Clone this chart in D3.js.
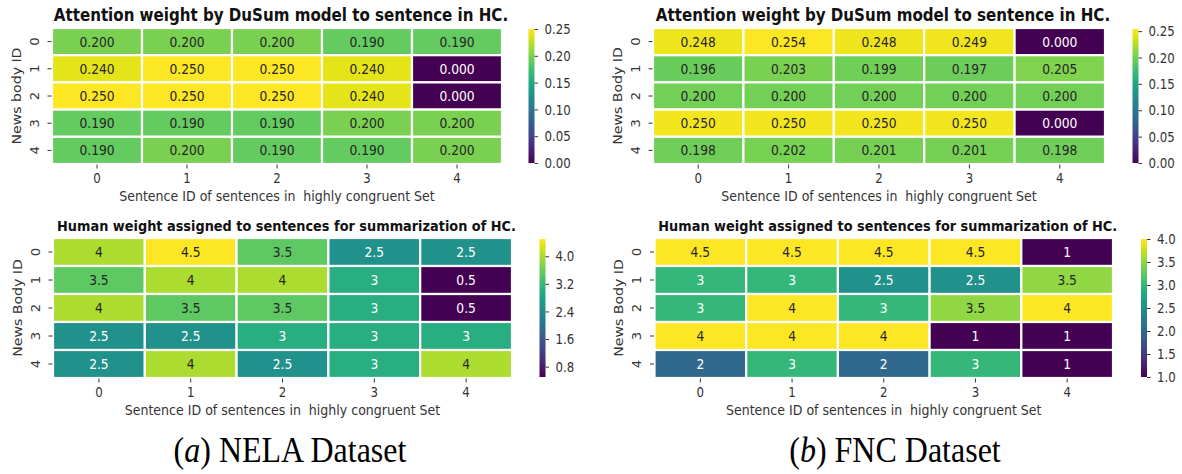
<!DOCTYPE html>
<html>
<head>
<meta charset="utf-8">
<script src="https://cdn.jsdelivr.net/npm/d3@7"></script>
<style>
  html, body { margin: 0; padding: 0; background: #ffffff; }
  svg { display: block; }
  text.sans { font-family: "DejaVu Sans", sans-serif; }
  text.caption { font-family: "Liberation Serif", "Times New Roman", serif; }
</style>
</head>
<body>
<svg id="chart" width="1182" height="474"></svg>
<script>
// ---- data ----
const newsBodyIds = [0, 1, 2, 3, 4];
const sentenceIds = [0, 1, 2, 3, 4];

// attention weights, NELA dataset (rows = news body, cols = sentence)
const nelaAttention = [
  [0.200, 0.200, 0.200, 0.190, 0.190],
  [0.240, 0.250, 0.250, 0.240, 0.000],
  [0.250, 0.250, 0.250, 0.240, 0.000],
  [0.190, 0.190, 0.190, 0.200, 0.200],
  [0.190, 0.200, 0.190, 0.190, 0.200]
];
// attention weights, FNC dataset
const fncAttention = [
  [0.248, 0.254, 0.248, 0.249, 0.000],
  [0.196, 0.203, 0.199, 0.197, 0.205],
  [0.200, 0.200, 0.200, 0.200, 0.200],
  [0.250, 0.250, 0.250, 0.250, 0.000],
  [0.198, 0.202, 0.201, 0.201, 0.198]
];
// human weights, NELA dataset
const nelaHuman = [
  [4, 4.5, 3.5, 2.5, 2.5],
  [3.5, 4, 4, 3, 0.5],
  [4, 3.5, 3.5, 3, 0.5],
  [2.5, 2.5, 3, 3, 3],
  [2.5, 4, 2.5, 3, 4]
];
// human weights, FNC dataset
const fncHuman = [
  [4.5, 4.5, 4.5, 4.5, 1],
  [3, 3, 2.5, 2.5, 3.5],
  [3, 4, 3, 3.5, 4],
  [4, 4, 4, 1, 1],
  [2, 3, 2, 3, 1]
];

const attentionTicks = [0, 0.05, 0.10, 0.15, 0.20, 0.25];
const nelaHumanTicks = [0.8, 1.6, 2.4, 3.2, 4.0];
const fncHumanTicks = [1.0, 1.5, 2.0, 2.5, 3.0, 3.5, 4.0];

const attentionTitle = "Attention weight by DuSum model to sentence in HC.";
const humanTitle = "Human weight assigned to sentences for summarization of HC.";
const xAxisLabel = "Sentence ID of sentences in  highly congruent Set";
const captions = [
  { tag: "a", name: " NELA Dataset" },
  { tag: "b", name: " FNC Dataset" }
];

// ---- layout ----
const K = 1.12;            // vertical stretch applied to all text
const TICK_FONT = 11.8;
const CELL_FONT = 12.3;
const LABEL_FONT = 12.6;

const panels = [
  { values: nelaAttention, domain: [0, 0.25], ticks: attentionTicks, tickFmt: d3.format(".2f"),
    cellFmt: d3.format(".3f"), title: attentionTitle, titleSize: 15.1, yLabel: "News body ID",
    box: { x0: 52, x1: 502, y0: 28, y1: 164 }, bar: { x0: 528.5, x1: 534.5 } },
  { values: fncAttention, domain: [0, 0.254], ticks: attentionTicks, tickFmt: d3.format(".2f"),
    cellFmt: d3.format(".3f"), title: attentionTitle, titleSize: 15.1, yLabel: "News Body ID",
    box: { x0: 653, x1: 1105, y0: 28, y1: 164 }, bar: { x0: 1132.5, x1: 1138.5 } },
  { values: nelaHuman, domain: [0.5, 4.5], ticks: nelaHumanTicks, tickFmt: d3.format(".1f"),
    cellFmt: v => String(v), title: humanTitle, titleSize: 12.9, yLabel: "News Body ID",
    box: { x0: 53, x1: 512, y0: 238, y1: 378 }, bar: { x0: 539.5, x1: 545.5 } },
  { values: fncHuman, domain: [1, 4], ticks: fncHumanTicks, tickFmt: d3.format(".1f"),
    cellFmt: v => String(v), title: humanTitle, titleSize: 12.9, yLabel: "News Body ID",
    box: { x0: 654.5, x1: 1113, y0: 238, y1: 378 }, bar: { x0: 1141, x1: 1147 } }
];

const svg = d3.select("#chart");
const defs = svg.append("defs");

function relLuminance(c) {
  const rgb = d3.rgb(c);
  const lin = v => { v /= 255; return v <= 0.03928 ? v / 12.92 : Math.pow((v + 0.055) / 1.055, 2.4); };
  return 0.2126 * lin(rgb.r) + 0.7152 * lin(rgb.g) + 0.0722 * lin(rgb.b);
}

function stretchText(sel, x, y, rot) {
  sel.attr("x", null).attr("y", null).attr("dy", null)
     .attr("transform", `translate(${x},${y}) scale(1,${K})` + (rot ? ` rotate(${rot})` : ""));
}

panels.forEach((p, pi) => {
  const g = svg.append("g");
  const { x0, x1, y0, y1 } = p.box;

  const x = d3.scaleBand().domain(sentenceIds).range([x0, x1]);
  const y = d3.scaleBand().domain(newsBodyIds).range([y0, y1]);
  const color = d3.scaleSequential(d3.interpolateViridis).domain(p.domain).clamp(true);

  // cells
  const cells = [];
  p.values.forEach((row, r) => row.forEach((v, c) => cells.push({ r, c, v })));

  g.selectAll("rect.cell").data(cells).join("rect")
    .attr("class", "cell")
    .attr("x", d => x(d.c)).attr("y", d => y(d.r))
    .attr("width", x.bandwidth()).attr("height", y.bandwidth())
    .attr("fill", d => color(d.v))
    .attr("stroke", "#ffffff").attr("stroke-width", 2.2);

  g.selectAll("text.annot").data(cells).join("text")
    .attr("class", "annot sans")
    .attr("text-anchor", "middle")
    .attr("font-size", CELL_FONT)
    .attr("fill", d => relLuminance(color(d.v)) < 0.408 ? "#ffffff" : "#262626")
    .text(d => p.cellFmt(d.v))
    .each(function (d) {
      stretchText(d3.select(this), x(d.c) + x.bandwidth() / 2, y(d.r) + y.bandwidth() / 2 + 4.9);
    });

  // x axis
  const xAxis = g.append("g").attr("transform", `translate(0,${y1})`)
    .call(d3.axisBottom(x).tickSize(4).tickSizeOuter(0));
  xAxis.select(".domain").remove();
  xAxis.selectAll(".tick line").attr("stroke", "#333").attr("y1", 0.5).attr("y2", 4.5);
  xAxis.selectAll(".tick text")
    .attr("class", "sans").attr("font-size", TICK_FONT).attr("fill", "#333")
    .each(function () { stretchText(d3.select(this), 0, 19.3); });

  // y axis
  const yAxis = g.append("g").attr("transform", `translate(${x0},0)`)
    .call(d3.axisLeft(y).tickSize(4).tickSizeOuter(0));
  yAxis.select(".domain").remove();
  yAxis.selectAll(".tick line").attr("stroke", "#333").attr("x1", -0.5).attr("x2", -4.5);
  yAxis.selectAll(".tick text")
    .attr("class", "sans").attr("font-size", TICK_FONT).attr("fill", "#333")
    .attr("text-anchor", "middle")
    .each(function () { stretchText(d3.select(this), -13.5, 0, -90); });

  // axis labels
  g.append("text")
    .attr("class", "sans")
    .attr("text-anchor", "middle").attr("font-size", LABEL_FONT).attr("fill", "#333")
    .style("white-space", "pre")
    .text(xAxisLabel)
    .call(s => stretchText(s, (x0 + x1) / 2, y1 + 36.5));

  g.append("text")
    .attr("class", "sans")
    .attr("text-anchor", "middle").attr("font-size", LABEL_FONT).attr("fill", "#333")
    .text(p.yLabel)
    .call(s => stretchText(s, x0 - 31.5, (y0 + y1) / 2, -90));

  // title
  g.append("text")
    .attr("class", "sans")
    .attr("text-anchor", "middle").attr("font-size", p.titleSize).attr("font-weight", "bold")
    .attr("fill", "#111")
    .text(p.title)
    .call(s => stretchText(s, (x0 + x1) / 2 + 4, y0 - 7));

  // colorbar
  const gradId = "viridis-" + pi;
  const grad = defs.append("linearGradient").attr("id", gradId)
    .attr("x1", 0).attr("y1", 1).attr("x2", 0).attr("y2", 0);
  d3.range(0, 1.0001, 0.05).forEach(t => {
    grad.append("stop").attr("offset", t).attr("stop-color", d3.interpolateViridis(t));
  });
  const cb = d3.scaleLinear().domain(p.domain).range([y1 - 1, y0 + 1]);
  g.append("rect")
    .attr("x", p.bar.x0).attr("y", cb(p.domain[1]))
    .attr("width", p.bar.x1 - p.bar.x0).attr("height", cb(p.domain[0]) - cb(p.domain[1]))
    .attr("fill", `url(#${gradId})`);

  const cAxis = g.append("g").attr("transform", `translate(${p.bar.x1},0)`)
    .call(d3.axisRight(cb).tickValues(p.ticks).tickFormat(p.tickFmt).tickSize(3.5).tickSizeOuter(0));
  cAxis.select(".domain").remove();
  cAxis.selectAll(".tick line").attr("stroke", "#333");
  cAxis.selectAll(".tick text")
    .attr("class", "sans").attr("font-size", TICK_FONT).attr("fill", "#333")
    .attr("text-anchor", "start")
    .each(function () { stretchText(d3.select(this), 10, 4.6); });
});

// sub-figure captions
const capX = [290, 895];
captions.forEach((c, i) => {
  const t = svg.append("text")
    .attr("class", "caption")
    .attr("text-anchor", "middle")
    .attr("font-size", 32)
    .attr("fill", "#000")
    .style("white-space", "pre");
  t.append("tspan").text("(");
  t.append("tspan").attr("font-style", "italic").text(c.tag);
  t.append("tspan").text(")" + c.name);
  stretchText(t, capX[i], 462);
});
</script>
</body>
</html>
